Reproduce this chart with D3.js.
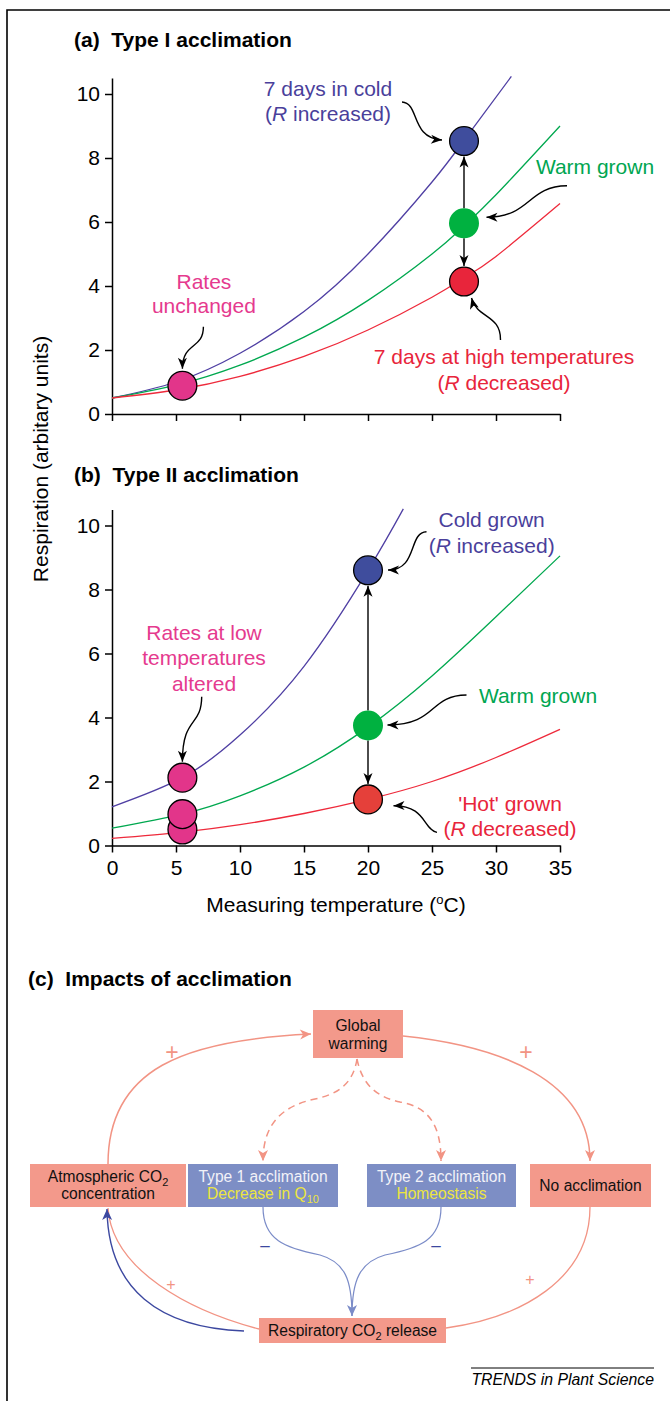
<!DOCTYPE html>
<html><head><meta charset="utf-8">
<script src="https://cdn.jsdelivr.net/npm/d3@7"></script>
<style>
html,body{margin:0;padding:0;background:#fff;}
svg{display:block;font-family:"Liberation Sans",Arial,Helvetica,sans-serif;}
</style></head><body>
<svg id="chart" width="670" height="1401"></svg>
<script>
// ================= DATA =================
const xTicks = [0, 5, 10, 15, 20, 25, 30, 35];
const yTicks = [0, 2, 4, 6, 8, 10];

// Panel (a): Type I acclimation  (temperature °C, respiration)
const coldA_t = [0, 5, 10, 15, 20, 25, 27.5, 31.2];
const coldA_v = [0.5, 1.0, 1.9, 3.2, 5.0, 7.25, 8.55, 10.55];
const warmA_t = [0, 5, 10, 15, 20, 25, 27.5, 30, 35];
const warmA_v = [0.5, 0.9, 1.525, 2.4, 3.55, 5.0, 5.875, 6.85, 9.0];
const hotA_t  = [0, 5, 10, 15, 20, 25, 27.5, 30, 35];
const hotA_v  = [0.5, 0.75, 1.175, 1.8, 2.625, 3.65, 4.25, 4.925, 6.575];
const pointsA = [
  {key: "pink",  t: 5.5,  v: 0.885},
  {key: "blue",  t: 27.5, v: 8.53},
  {key: "green", t: 27.5, v: 5.96},
  {key: "red",   t: 27.5, v: 4.14}
];
const labelsA = {
  blue:  ["7 days in cold", "(*R* increased)"],
  green: ["Warm grown"],
  red:   ["7 days at high temperatures", "(*R* decreased)"],
  pink:  ["Rates", "unchanged"]
};

// Panel (b): Type II acclimation
const coldB_t = [0, 5.5, 10, 15, 20, 22.76];
const coldB_v = [1.21, 2.12, 3.45, 5.6, 8.6, 10.52];
const warmB_t = [0, 5.5, 10, 15, 20, 25, 30, 35];
const warmB_v = [0.54, 0.98, 1.55, 2.45, 3.7, 5.3, 7.15, 9.05];
const hotB_t  = [0, 5.5, 10, 15, 20, 25, 30, 35];
const hotB_v  = [0.22, 0.42, 0.65, 1.0, 1.44, 2.0, 2.75, 3.63];
const pointsB = [
  {key: "pinkLow", t: 5.5, v: 0.5},
  {key: "pinkMid", t: 5.5, v: 0.98},
  {key: "pink",    t: 5.5, v: 2.12},
  {key: "blue",    t: 20,  v: 8.6},
  {key: "green",   t: 20,  v: 3.75},
  {key: "red",     t: 20,  v: 1.44}
];
const labelsB = {
  blue:  ["Cold grown", "(*R* increased)"],
  green: ["Warm grown"],
  red:   ["'Hot' grown", "(*R* decreased)"],
  pink:  ["Rates at low", "temperatures", "altered"]
};

// Panel (c): diagram node texts
const nodeTexts = {
  gw:   [[{t: "Global"}], [{t: "warming"}]],
  atm:  [[{t: "Atmospheric CO"}, {t: "2", sub: true}], [{t: "concentration"}]],
  t1:   [[{t: "Type 1 acclimation"}], [{t: "Decrease in Q", y: true}, {t: "10", sub: true, y: true}]],
  t2:   [[{t: "Type 2 acclimation"}], [{t: "Homeostasis", y: true}]],
  none: [[{t: "No acclimation"}]],
  resp: [[{t: "Respiratory CO"}, {t: "2", sub: true}, {t: " release", after: true}]]
};

// ================= STYLE / LAYOUT =================
const FONT = 21;
const col = {
  blueLine: "#4f3fa3", greenLine: "#00a84f", redLine: "#ee2a3b",
  blueText: "#4a3f9b", greenText: "#00a651", redText: "#e8253b", pinkText: "#e53a8e",
  bluePt: "#3f4d9d", greenPt: "#00b140", redPtA: "#e8253b", redPtB: "#e5403a", pinkPt: "#e2358a",
  salmon: "#f3998b", salmonLine: "#f29484", boxBlue: "#7d8ec5", lightBlue: "#7b8cc8",
  darkBlue: "#3c48a0", yellow: "#ece53e", boxText: "#f2f2f8"
};

const svg = d3.select("#chart");
const defs = svg.append("defs");
function marker(id, color, L = 11, W = 4.5) {
  defs.append("marker").attr("id", id)
    .attr("viewBox", `${-L - 1} ${-W - 1} ${L + 3} ${2 * W + 2}`)
    .attr("refX", 0).attr("refY", 0)
    .attr("markerWidth", L + 3).attr("markerHeight", 2 * W + 2)
    .attr("markerUnits", "userSpaceOnUse").attr("orient", "auto")
    .append("path").attr("d", `M0,0 L${-L},${-W} L${-L * 0.72},0 L${-L},${W} Z`).attr("fill", color);
}
marker("arrBlack", "#000");
marker("arrSalmon", col.salmonLine, 11, 5);
marker("arrLBlue", col.lightBlue, 11, 5);
marker("arrDBlue", col.darkBlue, 11, 5);

// frame
svg.append("path").attr("d", "M7,1401 V10 H670").attr("fill", "none").attr("stroke", "#000").attr("stroke-width", 1.6);

function addRichText(g, x, y, str, color, size, anchor = "middle") {
  const t = g.append("text").attr("x", x).attr("y", y).attr("text-anchor", anchor)
    .attr("font-size", size).attr("fill", color);
  str.split("*").forEach((s, i) => {
    if (s === "") return;
    const sp = t.append("tspan").text(s);
    if (i % 2 === 1) sp.attr("font-style", "italic");
  });
  return t;
}

function drawPanel(cfg) {
  const g = svg.append("g");
  const x = d3.scaleLinear().domain([0, 35]).range([112, 560]);
  const y = d3.scaleLinear().domain([0, 10.5]).range([cfg.y0, cfg.y0 - 336]);

  // title
  g.append("text").attr("x", 74).attr("y", cfg.titleY).attr("font-size", FONT).attr("font-weight", "bold")
    .attr("xml:space", "preserve").style("white-space", "pre").text(cfg.title);

  // axes
  const ya = g.append("g").attr("transform", "translate(112,0)")
    .call(d3.axisLeft(y).tickValues(yTicks).tickSize(7).tickSizeOuter(0).tickPadding(5));
  const xa = g.append("g").attr("transform", `translate(0,${cfg.y0})`)
    .call(d3.axisBottom(x).tickValues(xTicks).tickSize(7).tickSizeOuter(0).tickPadding(8)
      .tickFormat(cfg.xLabels ? d3.format("d") : () => ""));
  [ya, xa].forEach(a => {
    a.attr("font-size", FONT).attr("font-family", null).attr("color", "#000");
    a.selectAll("path,line").attr("stroke-width", 1.5);
  });

  // curves
  const line = d3.line().x(d => x(d[0])).y(d => y(d[1])).curve(d3.curveNatural);
  cfg.curves.forEach(c => {
    g.append("path").datum(d3.zip(c.t, c.v)).attr("d", line)
      .attr("fill", "none").attr("stroke", c.color).attr("stroke-width", 1.3);
  });

  const P = {};
  cfg.points.forEach(p => { P[p.key] = [x(p.t), y(p.v)]; });

  // vertical arrows between points
  const R = 15;
  cfg.vArrows.forEach(([from, to]) => {
    const a = P[from], b = P[to];
    const dir = Math.sign(b[1] - a[1]);
    g.append("line").attr("x1", a[0]).attr("y1", a[1] + dir * R)
      .attr("x2", b[0]).attr("y2", b[1] - dir * (R + 0.5))
      .attr("stroke", "#000").attr("stroke-width", 1.4).attr("marker-end", "url(#arrBlack)");
  });

  // curly annotation arrows (offsets relative to target point)
  cfg.ann.forEach(a => {
    const c = P[a.key];
    const p = a.path.map(o => [c[0] + o[0], c[1] + o[1]]);
    g.append("path").attr("d", `M${p[0]} C${p[1]} ${p[2]} ${p[3]}`)
      .attr("fill", "none").attr("stroke", "#000").attr("stroke-width", 1.4)
      .attr("marker-end", "url(#arrBlack)");
    a.lines.forEach((s, i) => {
      addRichText(g, c[0] + a.dx, c[1] + a.dy + i * a.lh, s, a.color, FONT);
    });
  });

  // points
  cfg.points.forEach(p => {
    const st = cfg.pointStyle[p.key];
    g.append("circle").attr("cx", x(p.t)).attr("cy", y(p.v)).attr("r", st.stroke ? 14.4 : 15)
      .attr("fill", st.fill).attr("stroke", st.stroke ? "#000" : "none").attr("stroke-width", 1.3);
  });
  return {x, y};
}

// ---------- Panel (a) ----------
drawPanel({
  title: "(a)  Type I acclimation", titleY: 47, y0: 414, xLabels: false,
  curves: [
    {t: coldA_t, v: coldA_v, color: col.blueLine},
    {t: warmA_t, v: warmA_v, color: col.greenLine},
    {t: hotA_t,  v: hotA_v,  color: col.redLine}
  ],
  points: pointsA,
  pointStyle: {
    pink: {fill: col.pinkPt, stroke: true}, blue: {fill: col.bluePt, stroke: true},
    green: {fill: col.greenPt, stroke: false}, red: {fill: col.redPtA, stroke: true}
  },
  vArrows: [["green", "blue"], ["green", "red"]],
  ann: [
    {key: "blue", path: [[-62, -39], [-44, -38], [-54, -3], [-22, -1]], lines: labelsA.blue, dx: -136, dy: -45.5, lh: 25, color: col.blueText},
    {key: "green", path: [[103, -37.5], [63, -37], [67, -6], [22.5, -6]], lines: labelsA.green, dx: 131, dy: -49.5, lh: 25, color: col.greenText},
    {key: "red", path: [[36.5, 58.5], [37, 33], [13, 37], [7.5, 16.5]], lines: labelsA.red, dx: 40, dy: 82.5, lh: 26, color: col.redText},
    {key: "pink", path: [[21, -59], [21, -36], [0, -44], [0, -17]], lines: labelsA.pink, dx: 21.5, dy: -96.5, lh: 24, color: col.pinkText}
  ]
});

// ---------- Panel (b) ----------
drawPanel({
  title: "(b)  Type II acclimation", titleY: 481.5, y0: 845.5, xLabels: true,
  curves: [
    {t: coldB_t, v: coldB_v, color: col.blueLine},
    {t: warmB_t, v: warmB_v, color: col.greenLine},
    {t: hotB_t,  v: hotB_v,  color: col.redLine}
  ],
  points: pointsB,
  pointStyle: {
    pinkLow: {fill: col.pinkPt, stroke: true}, pinkMid: {fill: col.pinkPt, stroke: true},
    pink: {fill: col.pinkPt, stroke: true}, blue: {fill: col.bluePt, stroke: true},
    green: {fill: col.greenPt, stroke: false}, red: {fill: col.redPtB, stroke: true}
  },
  vArrows: [["green", "blue"], ["green", "red"]],
  ann: [
    {key: "blue", path: [[58.5, -38.5], [40, -38], [50, 0], [20, -0.3]], lines: labelsB.blue, dx: 123.7, dy: -43.3, lh: 25.5, color: col.blueText},
    {key: "green", path: [[98.5, -30.5], [60, -30], [70, -1], [19.5, -0.5]], lines: labelsB.green, dx: 170, dy: -22.5, lh: 25, color: col.greenText},
    {key: "red", path: [[69, 33], [55, 30], [58, 6], [25.5, 6.3]], lines: labelsB.red, dx: 142, dy: 11.6, lh: 25, color: col.redText},
    {key: "pink", path: [[19.3, -81], [19, -50], [0, -62], [0, -16]], lines: labelsB.pink, dx: 21.6, dy: -137.7, lh: 25.5, color: col.pinkText}
  ]
});

// axis titles
svg.append("text").attr("transform", "translate(41,459) rotate(-90)").attr("text-anchor", "middle")
  .attr("dy", "0.35em").attr("font-size", FONT).text("Respiration (arbitary units)");
const xt = svg.append("text").attr("x", 336).attr("y", 912).attr("text-anchor", "middle").attr("font-size", FONT);
xt.append("tspan").text("Measuring temperature (");
xt.append("tspan").attr("font-size", 13).attr("dy", -8).text("o");
xt.append("tspan").attr("dy", 8).text("C)");

// ---------- Panel (c) ----------
svg.append("text").attr("x", 28).attr("y", 986).attr("font-size", FONT).attr("font-weight", "bold")
  .attr("xml:space", "preserve").style("white-space", "pre").text("(c)  Impacts of acclimation");

const boxes = {
  gw:   {x: 313, y: 1010, w: 90,  h: 48, fill: col.salmon,  base: [1030.5, 1048.5]},
  atm:  {x: 30,  y: 1164, w: 156, h: 43, fill: col.salmon,  base: [1181.5, 1199]},
  t1:   {x: 188, y: 1164, w: 150, h: 43, fill: col.boxBlue, base: [1181.5, 1199]},
  t2:   {x: 367, y: 1164, w: 149, h: 43, fill: col.boxBlue, base: [1181.5, 1199]},
  none: {x: 530, y: 1164, w: 121, h: 43, fill: col.salmon,  base: [1190.5]},
  resp: {x: 259, y: 1318, w: 187, h: 25, fill: col.salmon,  base: [1335.5]}
};

const links = [
  {d: "M108,1164 C108,1068 185,1040 311,1034", color: col.salmonLine, w: 1.5, m: "arrSalmon"},
  {d: "M403,1036 C500,1046 590,1080 590,1161", color: col.salmonLine, w: 1.5, m: "arrSalmon"},
  {d: "M357,1059 C353,1084 338,1094 315,1099 C282,1106 263,1124 263,1161", color: col.salmonLine, w: 1.5, m: "arrSalmon", dash: "7,5"},
  {d: "M357,1059 C362,1084 376,1097 400,1102 C428,1107 441,1124 441,1161", color: col.salmonLine, w: 1.5, m: "arrSalmon", dash: "7,5"},
  {d: "M263,1207 C263,1240 285,1248 320,1255 C345,1262 352,1280 352,1316", color: col.lightBlue, w: 1.2, m: "arrLBlue"},
  {d: "M441,1207 C441,1240 420,1248 385,1255 C360,1262 352,1280 352,1316", color: col.lightBlue, w: 1.2},
  {d: "M259,1329 C190,1311 112,1270 108,1208", color: col.salmonLine, w: 1.3},
  {d: "M244,1331 C160,1328 108,1290 107,1209", color: col.darkBlue, w: 1.4, m: "arrDBlue"},
  {d: "M590,1207 C590,1280 520,1318 446,1328", color: col.salmonLine, w: 1.3}
];
links.forEach(l => {
  const p = svg.append("path").attr("d", l.d).attr("fill", "none").attr("stroke", l.color).attr("stroke-width", l.w);
  if (l.dash) p.attr("stroke-dasharray", l.dash);
  if (l.m) p.attr("marker-end", `url(#${l.m})`);
});

Object.keys(boxes).forEach(k => {
  const b = boxes[k];
  svg.append("rect").attr("x", b.x).attr("y", b.y).attr("width", b.w).attr("height", b.h).attr("fill", b.fill);
  const isBlue = b.fill === col.boxBlue;
  nodeTexts[k].forEach((segs, i) => {
    const t = svg.append("text").attr("x", b.x + b.w / 2).attr("y", b.base[i]).attr("text-anchor", "middle")
      .attr("font-size", 15.6).attr("fill", isBlue ? col.boxText : "#111");
    segs.forEach(s => {
      const sp = t.append("tspan").text(s.t);
      if (s.y) sp.attr("fill", col.yellow);
      if (s.sub) sp.attr("font-size", 11).attr("dy", 4);
      if (s.after) sp.attr("dy", -4);
    });
  });
});

// signs
const signs = [
  {x: 172, y: 1052, s: "+", size: 23, c: col.salmonLine},
  {x: 526, y: 1052, s: "+", size: 23, c: col.salmonLine},
  {x: 171, y: 1284, s: "+", size: 16, c: col.salmonLine},
  {x: 530, y: 1279, s: "+", size: 16, c: col.salmonLine},
  {x: 265, y: 1245, s: "\u2013", size: 17, c: col.darkBlue},
  {x: 436, y: 1245, s: "\u2013", size: 17, c: col.darkBlue}
];
signs.forEach(s => svg.append("text").attr("x", s.x).attr("y", s.y).attr("dy", "0.35em").attr("text-anchor", "middle")
  .attr("font-size", s.size).attr("fill", s.c).text(s.s));

// footer
svg.append("line").attr("x1", 471).attr("x2", 654).attr("y1", 1368).attr("y2", 1368).attr("stroke", "#000").attr("stroke-width", 1);
svg.append("text").attr("x", 654).attr("y", 1385).attr("text-anchor", "end").attr("font-size", 15.8)
  .attr("font-style", "italic").text("TRENDS in Plant Science");
</script>
</body></html>
